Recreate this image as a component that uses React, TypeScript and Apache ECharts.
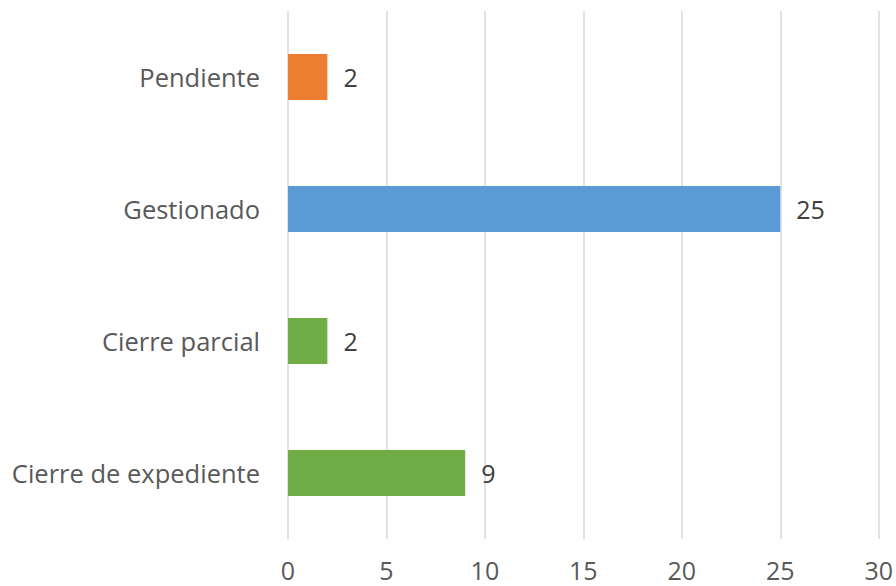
import React, { useEffect, useRef } from "react";
import * as echarts from "echarts";

const categories = ["Cierre de expediente", "Cierre parcial", "Gestionado", "Pendiente"];
const values = [9, 2, 25, 2];
const colors = ["#70AD47", "#70AD47", "#5B9BD5", "#ED7D31"];
const xTicks = [0, 5, 10, 15, 20, 25, 30];

export default function App() {
  const ref = useRef<HTMLDivElement>(null);
  useEffect(() => {
    if (!ref.current) return;
    const chart = echarts.init(ref.current, null, { renderer: "svg" });
    chart.setOption({
      animation: false,
      backgroundColor: "#ffffff",
      grid: { left: 288, right: 16, top: 11, bottom: 47, containLabel: false },
      xAxis: {
        type: "value",
        min: xTicks[0],
        max: xTicks[xTicks.length - 1],
        interval: 5,
        axisLine: { show: false },
        axisTick: { show: false },
        axisLabel: {
          color: "#595959",
          fontSize: 25,
          fontFamily: "Open Sans",
          margin: 17,
          lineHeight: 28,
        },
        splitLine: { show: true, lineStyle: { color: "#d9d9d9", width: 1.5 } },
      },
      yAxis: {
        type: "category",
        data: categories,
        axisLine: { show: false },
        axisTick: { show: false },
        axisLabel: {
          color: "#595959",
          fontSize: 25.5,
          fontFamily: "Open Sans",
          margin: 28,
        },
      },
      series: [
        {
          type: "bar",
          barWidth: 46,
          data: values.map((v, i) => ({ value: v, itemStyle: { color: colors[i] } })),
          label: {
            show: true,
            position: "right",
            distance: 16,
            color: "#404040",
            fontSize: 25,
            fontFamily: "Open Sans",
          },
        },
      ],
    });
    return () => chart.dispose();
  }, []);
  return <div ref={ref} style={{ width: 896, height: 586, position: "absolute", left: 0, top: 0 }} />;
}
